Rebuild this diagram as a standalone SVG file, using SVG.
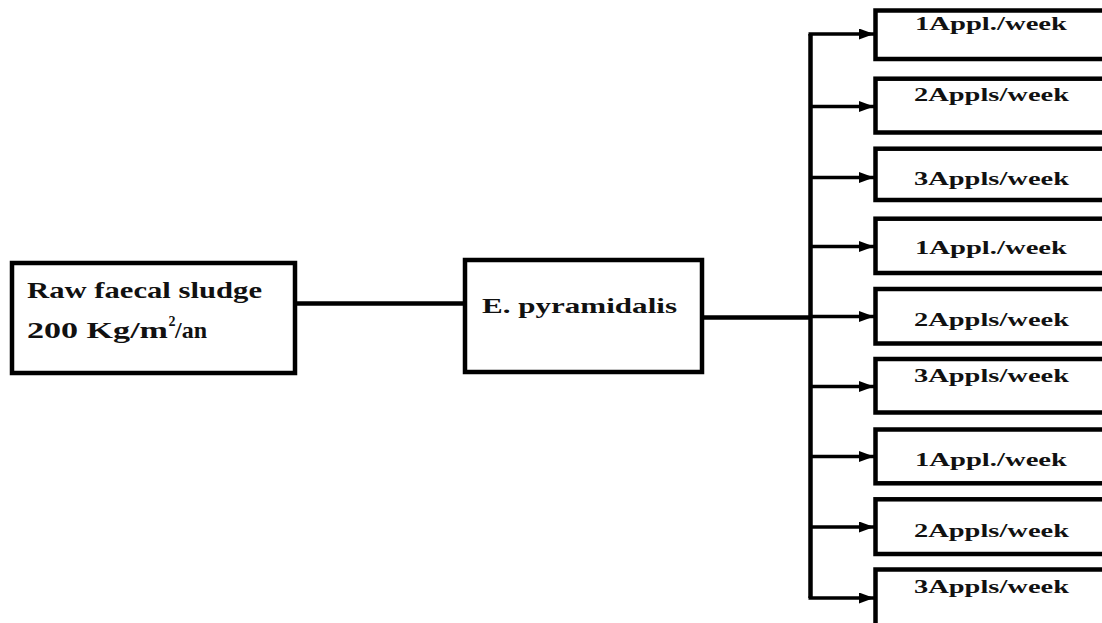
<svg xmlns="http://www.w3.org/2000/svg" width="1102" height="623" viewBox="0 0 1102 623">
<style>
.box{fill:#fff;stroke:#000;stroke-width:4.5}
.t{font-family:"Liberation Serif","Times New Roman",serif;font-weight:bold;fill:#111}
.conn{stroke:#000;fill:none}
</style>
<defs>
<marker id="ah" markerUnits="userSpaceOnUse" markerWidth="16" markerHeight="11" refX="15" refY="5.5" orient="auto">
<path d="M0,0 L15,5.5 L0,11 Z" fill="#000"/>
</marker>
</defs>
<rect width="1102" height="623" fill="#fff"/>
<g id="connectors">
<line class="conn" x1="297" y1="303.5" x2="463" y2="303.5" stroke-width="4.5"/>
<line class="conn" x1="704" y1="317.5" x2="810" y2="317.5" stroke-width="4.5"/>
<path class="conn" d="M810.5,34 V598" stroke-width="4.5"/>
<g stroke-width="3.3">
<line class="conn" x1="808.5" y1="34" x2="874" y2="34" marker-end="url(#ah)"/>
<line class="conn" x1="810.5" y1="106.5" x2="874" y2="106.5" marker-end="url(#ah)"/>
<line class="conn" x1="810.5" y1="177.5" x2="874" y2="177.5" marker-end="url(#ah)"/>
<line class="conn" x1="810.5" y1="246.5" x2="874" y2="246.5" marker-end="url(#ah)"/>
<line class="conn" x1="810.5" y1="316.5" x2="874" y2="316.5" marker-end="url(#ah)"/>
<line class="conn" x1="810.5" y1="386.5" x2="874" y2="386.5" marker-end="url(#ah)"/>
<line class="conn" x1="810.5" y1="456.5" x2="874" y2="456.5" marker-end="url(#ah)"/>
<line class="conn" x1="810.5" y1="527" x2="874" y2="527" marker-end="url(#ah)"/>
<line class="conn" x1="808.5" y1="598" x2="874" y2="598" marker-end="url(#ah)"/>
</g>
</g>
<g id="node-source">
<rect class="box" x="12" y="263" width="283" height="110"/>
<text class="t" x="27" y="298" font-size="23" textLength="235" lengthAdjust="spacingAndGlyphs">Raw faecal sludge</text>
<text class="t" y="338" font-size="23"><tspan x="27" textLength="141" lengthAdjust="spacingAndGlyphs">200 Kg/m</tspan><tspan x="168.5" y="326" font-size="14" textLength="7" lengthAdjust="spacingAndGlyphs">2</tspan><tspan x="175" y="338" font-size="23" textLength="32" lengthAdjust="spacingAndGlyphs">/an</tspan></text>
</g>
<g id="node-plant">
<rect class="box" x="465" y="260" width="237" height="112"/>
<text class="t" x="482" y="313" font-size="22" textLength="195" lengthAdjust="spacingAndGlyphs">E. pyramidalis</text>
</g>
<g id="node-1">
<rect class="box" x="875.5" y="10.5" width="240" height="48.5"/>
<text class="t" x="915" y="30" font-size="18" textLength="152" lengthAdjust="spacingAndGlyphs">1Appl./week</text>
</g>
<g id="node-2">
<rect class="box" x="875.5" y="78.7" width="240" height="53.8"/>
<text class="t" x="914" y="100.7" font-size="18" textLength="155" lengthAdjust="spacingAndGlyphs">2Appls/week</text>
</g>
<g id="node-3">
<rect class="box" x="875.5" y="148.7" width="240" height="51.3"/>
<text class="t" x="914" y="185" font-size="18" textLength="155" lengthAdjust="spacingAndGlyphs">3Appls/week</text>
</g>
<g id="node-4">
<rect class="box" x="875.5" y="218.7" width="240" height="54.3"/>
<text class="t" x="915" y="254.3" font-size="18" textLength="152" lengthAdjust="spacingAndGlyphs">1Appl./week</text>
</g>
<g id="node-5">
<rect class="box" x="875.5" y="289" width="240" height="54.5"/>
<text class="t" x="914" y="326" font-size="18" textLength="155" lengthAdjust="spacingAndGlyphs">2Appls/week</text>
</g>
<g id="node-6">
<rect class="box" x="875.5" y="359" width="240" height="53.5"/>
<text class="t" x="914" y="381.7" font-size="18" textLength="155" lengthAdjust="spacingAndGlyphs">3Appls/week</text>
</g>
<g id="node-7">
<rect class="box" x="875.5" y="429.5" width="240" height="53.8"/>
<text class="t" x="915" y="466" font-size="18" textLength="152" lengthAdjust="spacingAndGlyphs">1Appl./week</text>
</g>
<g id="node-8">
<rect class="box" x="875.5" y="499.3" width="240" height="54.7"/>
<text class="t" x="914" y="536.7" font-size="18" textLength="155" lengthAdjust="spacingAndGlyphs">2Appls/week</text>
</g>
<g id="node-9">
<rect class="box" x="875.5" y="569.5" width="240" height="70"/>
<text class="t" x="914" y="592.7" font-size="18" textLength="155" lengthAdjust="spacingAndGlyphs">3Appls/week</text>
</g>
</svg>
